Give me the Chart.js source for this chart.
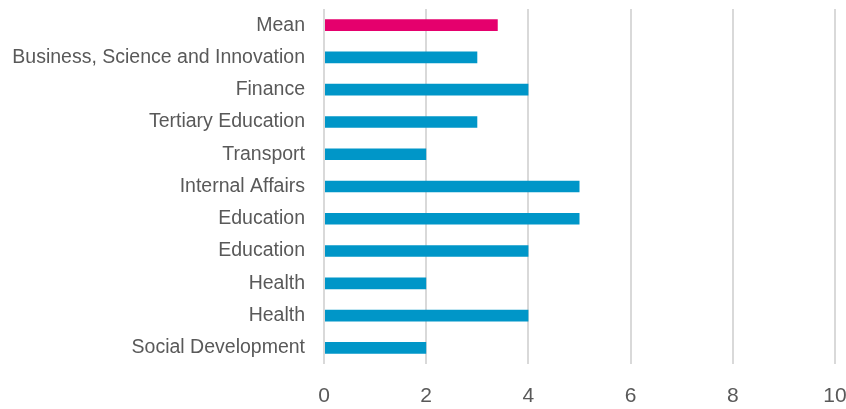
<!DOCTYPE html>
<html>
<head>
<meta charset="utf-8">
<script src="https://cdn.jsdelivr.net/npm/chart.js@4/dist/chart.umd.min.js"></script>
<style>
  html, body { margin: 0; padding: 0; background: #fff; }
  #wrap { width: 846px; height: 409px; position: relative; }
</style>
</head>
<body>
<div id="wrap"><canvas id="chart"></canvas></div>
<script>
// categories, top to bottom
const categories = [
    'Mean',
    'Business, Science and Innovation',
    'Finance',
    'Tertiary Education',
    'Transport',
    'Internal Affairs',
    'Education',
    'Education',
    'Health',
    'Health',
    'Social Development'
];
const scores = [3.4, 3, 4, 3, 2, 5, 5, 4, 2, 4, 2];
const xTicks = [0, 2, 4, 6, 8, 10];

const BLUE = '#0096c8';
const PINK = '#e5006d';
const TEXT = '#595959';
const GRID = '#d9d9d9';

const fontFamily = '"Liberation Sans", Arial, sans-serif';

new Chart(document.getElementById('chart'), {
    type: 'bar',
    data: {
        labels: categories,
        datasets: [{
            data: scores,
            backgroundColor: categories.map(c => c === 'Mean' ? PINK : BLUE),
            borderWidth: 0,
            barPercentage: 0.36,
            categoryPercentage: 1
        }]
    },
    options: {
        indexAxis: 'y',
        responsive: true,
        maintainAspectRatio: false,
        animation: false,
        layout: { padding: { top: 9, right: 11, left: 0, bottom: 0 } },
        plugins: { legend: { display: false }, tooltip: { enabled: false } },
        scales: {
            x: {
                min: 0,
                max: 10,
                afterBuildTicks: axis => { axis.ticks = xTicks.map(v => ({ value: v })); },
                // fixed height, and no extra side room for the end labels
                afterFit: axis => {
                    axis.height = 45;
                    axis.paddingLeft = 0;
                    axis.paddingRight = 0;
                },
                grid: { color: GRID, lineWidth: 2, drawTicks: false },
                border: { display: false },
                ticks: { color: TEXT, padding: 20, font: { family: fontFamily, size: 21 } }
            },
            y: {
                afterFit: axis => {
                    axis.width = 324;
                    axis.paddingTop = 0;
                    axis.paddingBottom = 0;
                },
                grid: { display: false, drawTicks: false },
                border: { display: false },
                ticks: { color: TEXT, padding: 19, autoSkip: false, font: { family: fontFamily, size: 19.5 } }
            }
        }
    }
});
</script>
</body>
</html>
